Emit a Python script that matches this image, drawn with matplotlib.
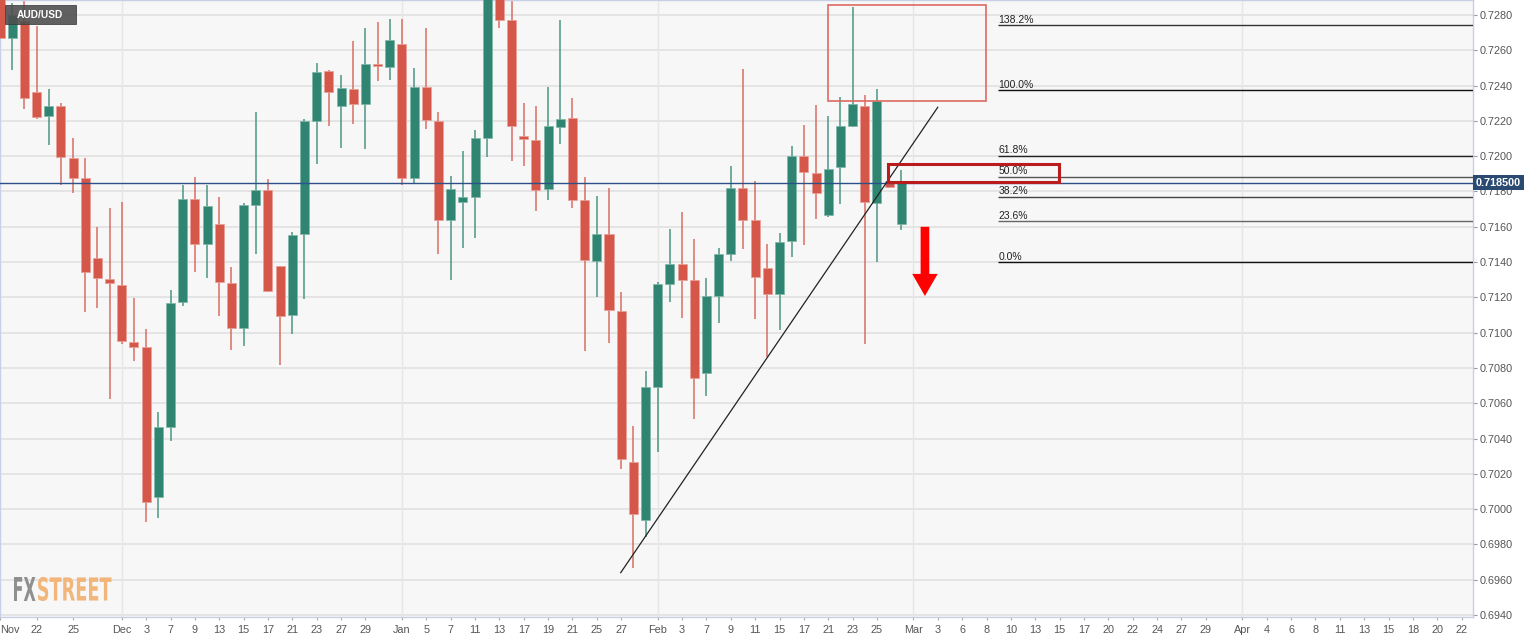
import numpy as np
import matplotlib
matplotlib.use("Agg")
import matplotlib.pyplot as plt
from matplotlib.patches import Rectangle, FancyArrow, PathPatch
from matplotlib.textpath import TextPath
from matplotlib.font_manager import FontProperties
from matplotlib.transforms import Affine2D, blended_transform_factory

# daily AUD/USD candles, Nov 17 2021 -> Mar 1 2022 (one per trading day)
opens = [0.72900, 0.72668, 0.72765, 0.72361, 0.72225, 0.72284, 0.71989, 0.71878, 0.71423, 0.71306,
         0.71270, 0.70948, 0.70917, 0.70071, 0.70468, 0.71172, 0.71759, 0.71500, 0.71615, 0.71279,
         0.71028, 0.71724, 0.71807, 0.71375, 0.71101, 0.71558, 0.72202, 0.72482, 0.72284, 0.72382,
         0.72298, 0.72522, 0.72505, 0.72637, 0.71874, 0.72393, 0.72200, 0.71636, 0.71740, 0.71768,
         0.72104, 0.72890, 0.72769, 0.72117, 0.72094, 0.71814, 0.72165, 0.72217, 0.71753, 0.71404,
         0.71561, 0.71123, 0.70268, 0.69938, 0.70693, 0.71276, 0.71391, 0.71297, 0.70771, 0.71207,
         0.71448, 0.71821, 0.71637, 0.71364, 0.71221, 0.71517, 0.72003, 0.71905, 0.71668, 0.71936,
         0.72171, 0.72286, 0.71735, 0.71857, 0.71616]
highs = [0.73000, 0.72870, 0.72900, 0.72735, 0.72382, 0.72300, 0.72102, 0.71989, 0.71600, 0.71709,
         0.71738, 0.71197, 0.71021, 0.70549, 0.71239, 0.71839, 0.71882, 0.71839, 0.71768, 0.71370,
         0.71734, 0.72248, 0.71868, 0.71380, 0.71569, 0.72209, 0.72530, 0.72491, 0.72459, 0.72650,
         0.72727, 0.72758, 0.72779, 0.72779, 0.72497, 0.72727, 0.72252, 0.71887, 0.72027, 0.72150,
         0.72950, 0.72950, 0.72900, 0.72300, 0.72286, 0.72392, 0.72769, 0.72328, 0.71882, 0.71772,
         0.71820, 0.71228, 0.70469, 0.70781, 0.71286, 0.71590, 0.71683, 0.71532, 0.71312, 0.71479,
         0.71947, 0.72496, 0.71857, 0.71504, 0.71567, 0.72060, 0.72175, 0.72291, 0.72228, 0.72335,
         0.72846, 0.72349, 0.72381, 0.71880, 0.71920]
lows = [0.72581, 0.72491, 0.72267, 0.72209, 0.72066, 0.71834, 0.71791, 0.71118, 0.71138, 0.70627,
        0.70938, 0.70837, 0.69928, 0.69951, 0.70386, 0.71149, 0.71345, 0.71312, 0.71097, 0.70900,
        0.70923, 0.71446, 0.71231, 0.70817, 0.70992, 0.71193, 0.71954, 0.72169, 0.72048, 0.72183,
        0.72041, 0.72424, 0.72434, 0.71834, 0.71841, 0.72156, 0.71446, 0.71297, 0.71479, 0.71538,
        0.71993, 0.72725, 0.71974, 0.71945, 0.71690, 0.71753, 0.72069, 0.71705, 0.70896, 0.71201,
        0.70942, 0.70226, 0.69666, 0.69844, 0.70326, 0.71175, 0.71085, 0.70509, 0.70641, 0.71056,
        0.71406, 0.71475, 0.71077, 0.70861, 0.71018, 0.71427, 0.71496, 0.71643, 0.71657, 0.71727,
        0.72165, 0.70934, 0.71402, 0.71820, 0.71580]
closes = [0.72668, 0.72800, 0.72328, 0.72221, 0.72284, 0.71993, 0.71874, 0.71345, 0.71310, 0.71279,
          0.70952, 0.70921, 0.70043, 0.70463, 0.71168, 0.71759, 0.71500, 0.71719, 0.71287, 0.71028,
          0.71724, 0.71807, 0.71235, 0.71095, 0.71554, 0.72198, 0.72478, 0.72363, 0.72384, 0.72298,
          0.72520, 0.72509, 0.72660, 0.71874, 0.72393, 0.72204, 0.71636, 0.71816, 0.71766, 0.72102,
          0.72900, 0.72773, 0.72169, 0.72098, 0.71811, 0.72169, 0.72213, 0.71753, 0.71412, 0.71561,
          0.71126, 0.70284, 0.69970, 0.70693, 0.71274, 0.71391, 0.71301, 0.70746, 0.71207, 0.71448,
          0.71821, 0.71637, 0.71318, 0.71221, 0.71511, 0.72003, 0.71909, 0.71794, 0.71928, 0.72171,
          0.72297, 0.71741, 0.72312, 0.71825, 0.71850]

# x ticks (trading-day slots)
tick_pos = [0, 3, 6, 10, 12, 14, 16, 18, 20, 22, 24, 26, 28, 30, 33, 35, 37, 39, 41, 43, 45, 47, 49, 51,
            54, 56, 58, 60, 62, 64, 66, 68, 70, 72, 75, 77, 79, 81, 83, 85, 87, 89, 91, 93, 95, 97, 99,
            102, 104, 106, 108, 110, 112, 114, 116, 118, 120]
tick_lab = ["Nov", "22", "25", "Dec", "3", "7", "9", "13", "15", "17", "21", "23", "27", "29",
            "Jan", "5", "7", "11", "13", "17", "19", "21", "25", "27",
            "Feb", "3", "7", "9", "11", "15", "17", "21", "23", "25",
            "Mar", "3", "6", "8", "10", "13", "15", "17", "20", "22", "24", "27", "29",
            "Apr", "4", "6", "8", "11", "13", "15", "18", "20", "22"]
month_pos = [10, 33, 54, 75, 102]
price_ticks = [0.6940, 0.6960, 0.6980, 0.7000, 0.7020, 0.7040, 0.7060, 0.7080, 0.7100,
               0.7120, 0.7140, 0.7160, 0.7180, 0.7200, 0.7220, 0.7240, 0.7260, 0.7280]

# fibonacci levels drawn on the chart
fib_labels = ["138.2%", "100.0%", "61.8%", "50.0%", "38.2%", "23.6%", "0.0%"]
fib_prices = [0.72742, 0.72373, 0.72003, 0.71884, 0.71770, 0.71631, 0.71399]
fib_colors = ["#333333", "#111111", "#222222", "#555555", "#444444", "#666666", "#111111"]

last_price = 0.7185
trend_x = [50.96, 76.99]
trend_y = [0.69640, 0.72277]

W, H = 1536, 641
XMAX = 1473 / 12.18
RED, GREEN = "#d5574a", "#2f8572"
tick_font = ["Liberation Sans Narrow", "Liberation Sans", "DejaVu Sans"]

fig = plt.figure(figsize=(W / 100, H / 100), dpi=100, facecolor="white")
ax = fig.add_axes([0, 24 / H, 1473 / W, 617 / H], facecolor="#f7f7f7")
ax.set_xlim(0, XMAX)
ax.set_ylim(0.69389, 0.72885)

# grid
for p in price_ticks:
    ax.axhline(p, color="#e3e3e3", lw=1.3, zorder=0)
for m in month_pos:
    ax.axvline(m, color="#e6e6e6", lw=1.0, zorder=0)

# candles
o = np.array(opens); h = np.array(highs); l = np.array(lows); c = np.array(closes)
x = np.arange(len(o))
cols = [GREEN if cc >= oo else RED for oo, cc in zip(o, c)]
edges = ["#7fb7a6" if cc >= oo else "#eaa096" for oo, cc in zip(o, c)]
ax.vlines(x, l, h, colors=cols, lw=1.1, alpha=0.85, zorder=2)
ax.bar(x, np.abs(c - o), bottom=np.minimum(o, c), width=0.74, color=cols,
       edgecolor=edges, linewidth=0.5, zorder=3)

# last price line
ax.axhline(last_price, color="#2d5089", lw=1.0, zorder=4)

# trendline
ax.plot(trend_x, trend_y, color="#222222", lw=0.9, zorder=5)

# boxes
ax.add_patch(Rectangle((67.96, 0.72314), 80.95 - 67.96, 0.72857 - 0.72314, fill=False,
                       edgecolor="#dc6a62", lw=1.2, zorder=5))
ax.add_patch(Rectangle((72.9, 0.71855), 86.95 - 72.9, 0.71954 - 0.71855, fill=False,
                       edgecolor="#b81c1c", lw=2.2, zorder=6))

# fib lines + labels
fx0 = 998 / 12.18
for lab, p, col in zip(fib_labels, fib_prices, fib_colors):
    ax.hlines(p, fx0, XMAX, color=col, lw=1.0, zorder=4)
    ax.text(fx0 + 0.05, p + 0.00004, lab, fontsize=7.5, color="#222222", ha="left", va="bottom",
            family=tick_font, zorder=7)

# red arrow
ax.add_patch(FancyArrow(75.94, 0.71600, 0, -(0.71600 - 0.71208), width=0.71, head_width=2.09,
                        head_length=0.00125, length_includes_head=True, color="#ff0000",
                        lw=0, zorder=6))

# axes styling
for s in ax.spines.values():
    s.set_color("#c8d0e6")
    s.set_linewidth(1.0)
ax.yaxis.tick_right()
ax.set_yticks(price_ticks, [f"{p:.4f}" for p in price_ticks])
ax.set_xticks(tick_pos, tick_lab)
ax.tick_params(axis="y", length=3, color="#999999", labelcolor="#555555", labelsize=7.8, pad=1.5)
ax.tick_params(axis="x", length=2.5, color="#aaaaaa", labelcolor="#555555", labelsize=7.8, pad=3)
for t in ax.get_xticklabels() + ax.get_yticklabels():
    t.set_family(tick_font)
ax.get_xticklabels()[0].set_ha("left")

# last price tag
tr = blended_transform_factory(ax.transAxes, ax.transData)
ax.text(1.002, last_price, "0.718500", transform=tr, ha="left", va="center", color="white",
        fontsize=7.8, weight="bold", family=tick_font, clip_on=False,
        bbox=dict(boxstyle="square,pad=0.25", fc="#2a4a72", ec="none"), zorder=10)

# symbol badge
fig.add_artist(Rectangle((4.7 / W, 1 - 24 / H), 71 / W, 19 / H, transform=fig.transFigure,
                         fc="#4f4f4f", ec="#3a3a3a", lw=0.6, alpha=0.9, zorder=10))
fig.text(40 / W, 1 - 14.5 / H, "AUD/USD", color="white", fontsize=7.3, weight="bold",
         ha="center", va="center", family=["Liberation Sans", "DejaVu Sans"], zorder=11)


def fit_text(s, x0, y0, x1, y1, color):
    # squeeze a text path into a pixel box (top-left origin)
    tp = TextPath((0, 0), s, size=10, prop=FontProperties(family="DejaVu Sans", weight="bold"))
    bb = tp.get_extents()
    t = (Affine2D().translate(-bb.x0, -bb.y0)
         .scale((x1 - x0) / bb.width / W, (y1 - y0) / bb.height / H)
         .translate(x0 / W, 1 - y1 / H))
    fig.add_artist(PathPatch(t.transform_path(tp), transform=fig.transFigure, fc=color,
                             ec="none", zorder=1))


# watermark
fit_text("FX", 14, 577, 35.5, 601, "#8f8f8f")
fit_text("STREET", 38, 577, 111.5, 601, "#f2b57a")

fig.savefig("out.png", dpi=100, facecolor="white")
